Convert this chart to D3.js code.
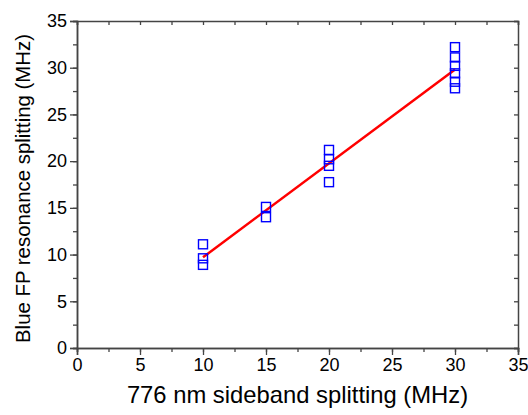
<!DOCTYPE html>
<html><head><meta charset="utf-8">
<script src="https://cdn.jsdelivr.net/npm/d3@7"></script>
<style>body{margin:0;background:#fff}svg{display:block}text{font-family:"Liberation Sans",Arial,sans-serif;fill:#000}</style>
</head><body><svg id="c" width="528" height="415"></svg>
<script>
const xValues = [10,10,10, 15,15, 20,20,20,20, 30,30,30,30,30,30];
const yValues = [11.1,9.6,8.9, 15.1,14.0, 21.2,20.2,19.5,17.75, 32.2,31.1,30.2,29.4,28.5,27.8];
const tickLabels = ["0","5","10","15","20","25","30","35"];
const xTitle = "776 nm sideband splitting (MHz)";
const yTitle = "Blue FP resonance splitting (MHz)";

const svg = d3.select("#c");
const L=77, R=518, T=21, B=348;
const x = d3.scaleLinear().domain([0,35]).range([L,R]);
const y = d3.scaleLinear().domain([0,35]).range([B,T]);
const axisColor="#444";
const major = tickLabels.map(Number);
const minor = d3.range(0,35.01,2.5);

function style(g){g.select(".domain").attr("stroke",axisColor).attr("stroke-width",1.5);
  g.selectAll(".tick line").attr("stroke",axisColor).attr("stroke-width",1.3);
  g.selectAll(".tick text").attr("font-size",18).attr("fill","#000").attr("font-family","Liberation Sans, Arial, sans-serif");}

// minor ticks
svg.append("g").attr("transform",`translate(0,${B})`).call(d3.axisBottom(x).tickValues(minor).tickSize(4).tickFormat("")).call(style);
svg.append("g").attr("transform",`translate(${L},0)`).call(d3.axisLeft(y).tickValues(minor).tickSize(4).tickFormat("")).call(style);
svg.append("g").attr("transform",`translate(0,${T})`).call(d3.axisTop(x).tickValues(minor).tickSize(-4).tickFormat("")).call(style);
svg.append("g").attr("transform",`translate(${R},0)`).call(d3.axisRight(y).tickValues(minor).tickSize(-4).tickFormat("")).call(style);
// major ticks
svg.append("g").attr("transform",`translate(0,${B})`).call(d3.axisBottom(x).tickValues(major).tickSize(7).tickPadding(3).tickFormat((d,i)=>tickLabels[i])).call(style);
svg.append("g").attr("transform",`translate(${L},0)`).call(d3.axisLeft(y).tickValues(major).tickSize(7).tickPadding(3).tickFormat((d,i)=>tickLabels[i])).call(style);

// fit line (least squares from data)
const mx=d3.mean(xValues), my=d3.mean(yValues);
const slope=d3.sum(xValues,(v,i)=>(v-mx)*(yValues[i]-my))/d3.sum(xValues,v=>(v-mx)*(v-mx));
const icpt=my-slope*mx;
const xe=d3.extent(xValues);
svg.append("line").attr("x1",x(xe[0])).attr("y1",y(icpt+slope*xe[0])).attr("x2",x(xe[1])).attr("y2",y(icpt+slope*xe[1]))
  .attr("stroke","#ff0000").attr("stroke-width",2.5);

// points
const s=9;
svg.append("g").selectAll("rect").data(xValues).join("rect")
  .attr("x",(d)=>x(d)-s/2).attr("y",(d,i)=>y(yValues[i])-s/2).attr("width",s).attr("height",s)
  .attr("fill","none").attr("stroke","#0000ff").attr("stroke-width",1.4);

svg.append("text").attr("x",(L+R)/2).attr("y",403).attr("text-anchor","middle").attr("font-size",23.8).text(xTitle);
svg.append("text").attr("transform",`translate(30,${(T+B)/2+4}) rotate(-90)`).attr("text-anchor","middle").attr("font-size",20.4).text(yTitle);
</script></body></html>
